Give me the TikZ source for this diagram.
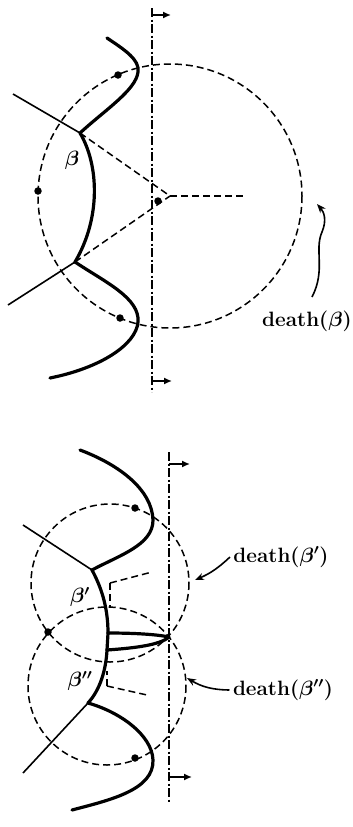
\documentclass[tikz,border=0pt]{standalone}
\usepackage{amsmath}
\usepackage{amssymb}
\usetikzlibrary{arrows.meta}

\tikzset{
    beach/.style={line width=3.2pt, line cap=round},
    vedge/.style={line width=1.6pt},
    ghost/.style={line width=1.5pt, dash pattern=on 7pt off 4pt},
    sweepline/.style={line width=1.5pt, dash pattern=on 9pt off 2.5pt on 2pt off 2.5pt},
    site/.style={circle, fill, inner sep=0pt, minimum size=7.5pt},
    tag/.style={font=\huge\bfseries\boldmath},
    sym/.style={font=\huge\boldmath},
    flag/.style={line width=1.5pt, -{Latex[length=8pt,width=7pt]}},
    pointer/.style={line width=1.6pt, -{Stealth[length=9pt,width=7pt]}}
}

\begin{document}
\begin{tikzpicture}[x=1pt,y=-1pt]

\useasboundingbox (0,0) rectangle (353,827);

% ---------- upper picture ----------
\coordinate (sA) at (118,75);
\coordinate (sB) at (38,191);
\coordinate (sC) at (120,318);
\coordinate (sN) at (158,201);
\coordinate (cT) at (170,196);
\coordinate (bU) at (80,133);
\coordinate (bL) at (75,262);

% sweep line
\draw[sweepline] (152,8) -- (152,392);
\draw[flag] (152,15) -- (171,15);
\draw[flag] (152,381) -- (172,381);

% circle event of beta
\draw[ghost] (cT) circle[radius=132];
\draw[ghost] (bU) -- (cT);
\draw[ghost] (bL) -- (cT);
\draw[ghost] (cT) -- (245,196);

% Voronoi edges
\draw[vedge] (13,94) -- (bU);
\draw[vedge] (8,305) -- (bL);

% beach line
\draw[beach] (107,38) .. controls (125,50) and (140,60) .. (138,72)
    .. controls (136,90) and (105,110) .. (bU);
\draw[beach] (bU) .. controls (99,165) and (101,218) .. (bL);
\draw[beach] (bL) .. controls (105,282) and (140,298) .. (138,322)
    .. controls (136,345) and (100,368) .. (50,378);

% sites
\foreach \s in {sA,sB,sC,sN}{
    \node[site] at (\s) {};
}

\node[sym] (lblB) at (72,160) {$\beta$};
\node[tag] (deathB) at (307,321) {death($\beta$)};
\coordinate (hitB) at (317,204);
\draw[pointer]
    (312,297) .. controls (326,270) and (314,250) .. (322,232)
    .. controls (327,220) and (324,212) .. (hitB);

% ---------- lower picture ----------
\coordinate (sP) at (135,508);
\coordinate (sQ) at (48,632);
\coordinate (sR) at (135,758);
\coordinate (sM) at (169,637);
\coordinate (cU) at (110,583);
\coordinate (cL) at (107,686);
\coordinate (b1) at (92,570);
\coordinate (b2) at (108,633);
\coordinate (b3) at (107,650);
\coordinate (b4) at (88,703);

% sweep line
\draw[sweepline] (169,452) -- (169,803);
\draw[flag] (169,464) -- (190,464);
\draw[flag] (169,777) -- (192,777);

% circle events
\draw[ghost] (cU) circle[radius=79];
\draw[ghost] (cL) circle[radius=79];
\draw[ghost] (cU) -- (152,572);
\draw[ghost] (cU) -- (110,608);
\draw[ghost] (cL) -- (147,695);
\draw[ghost] (cL) -- (107,671);

% Voronoi edges
\draw[vedge] (23,525) -- (b1);
\draw[vedge] (23,773) -- (b4);

% beach line
\draw[beach] (80,450) .. controls (120,465) and (152,490) .. (153,520)
    .. controls (153,545) and (120,555) .. (b1);
\draw[beach] (b1) .. controls (100,585) and (108,605) .. (b2);
\draw[beach] (b2) -- (b3);
\draw[beach] (b2) .. controls (130,633) and (155,634) .. (sM);
\draw[beach] (b3) .. controls (135,648) and (160,645) .. (sM);
\draw[beach] (b3) .. controls (106,670) and (100,690) .. (b4);
\draw[beach] (b4) .. controls (120,712) and (152,735) .. (153,760)
    .. controls (154,790) and (110,800) .. (72,810);

% sites
\foreach \s in {sP,sQ,sR}{
    \node[site] at (\s) {};
}

\node[sym] (lblB1) at (80,597) {$\beta'$};
\node[sym] (lblB2) at (80,681) {$\beta''$};

\node[tag] (deathB1) at (281,557) {death($\beta'$)};
\node[tag] (deathB2) at (283,690) {death($\beta''$)};
\coordinate (hitB1) at (195,580);
\coordinate (hitB2) at (187,678);
\draw[pointer] (deathB1.west) to[bend left=10] (hitB1);
\draw[pointer] (deathB2.west) to[bend left=15] (hitB2);

\end{tikzpicture}
\end{document}
